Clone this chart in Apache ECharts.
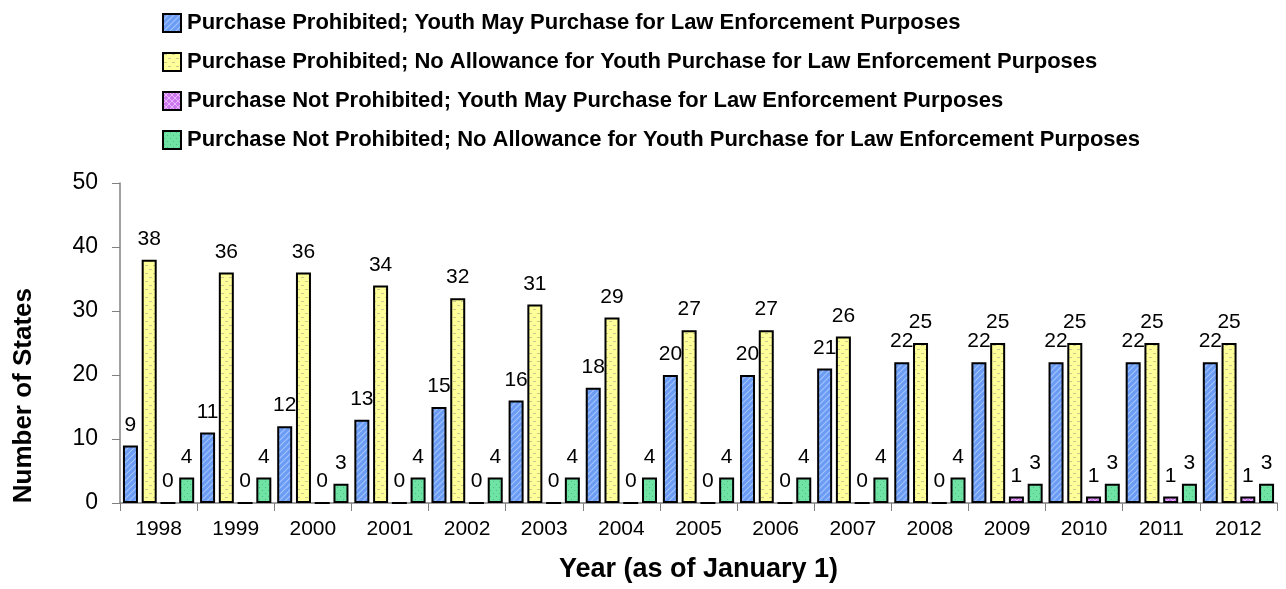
<!DOCTYPE html>
<html><head><meta charset="utf-8">
<script src="https://cdn.jsdelivr.net/npm/echarts@6/dist/echarts.min.js"></script>
<style>html,body{margin:0;padding:0;background:#fff}#c{width:1286px;height:589px}</style>
</head><body><div id="c"></div>
<script>
const years = ['1998','1999','2000','2001','2002','2003','2004','2005','2006','2007','2008','2009','2010','2011','2012'];
const seriesNames = [
  'Purchase Prohibited; Youth May Purchase for Law Enforcement Purposes',
  'Purchase Prohibited; No Allowance for Youth Purchase for Law Enforcement Purposes',
  'Purchase Not Prohibited; Youth May Purchase for Law Enforcement Purposes',
  'Purchase Not Prohibited; No Allowance for Youth Purchase for Law Enforcement Purposes'
];
const prohibitedMay = [9,11,12,13,15,16,18,20,20,21,22,22,22,22,22];
const prohibitedNo = [38,36,36,34,32,31,29,27,27,26,25,25,25,25,25];
const notProhibitedMay = [0,0,0,0,0,0,0,0,0,0,0,1,1,1,1];
const notProhibitedNo = [4,4,3,4,4,4,4,4,4,4,4,3,3,3,3];

function pat(w,h,bg,draw){
  const c=document.createElement('canvas');c.width=w;c.height=h;
  const g=c.getContext('2d');g.fillStyle=bg;g.fillRect(0,0,w,h);draw(g);
  return {image:c,repeat:'repeat'};
}
const bluePat = pat(6,6,'#6b9cf3',g=>{g.strokeStyle='#a3c2ff';g.lineWidth=1.2;g.beginPath();g.moveTo(-1,7);g.lineTo(7,-1);g.moveTo(-4,4);g.lineTo(4,-4);g.moveTo(2,10);g.lineTo(10,2);g.stroke();});
const yellowPat = pat(8,8,'#ffff99',g=>{g.fillStyle='#c9c98f';g.fillRect(1,1,3,1);g.fillRect(5,5,3,1);});
const purplePat = pat(6,6,'#cc77ee',g=>{g.strokeStyle='#eab8ff';g.lineWidth=1;g.beginPath();g.moveTo(0,0);g.lineTo(6,6);g.moveTo(6,0);g.lineTo(0,6);g.stroke();});
const greenPat = pat(6,6,'#6ee3a3',g=>{g.fillStyle='#4fbf86';g.fillRect(1,1,1,1);g.fillRect(4,4,1,1);});
const pats=[bluePat,yellowPat,purplePat,greenPat];
const dataArr=[prohibitedMay,prohibitedNo,notProhibitedMay,notProhibitedNo];
const FF='Liberation Sans, Arial, sans-serif';

const chart = echarts.init(document.getElementById('c'));
chart.setOption({
  animation:false,
  legend:{
    orient:'vertical', left:157, top:7, itemWidth:18, itemHeight:18, itemGap:17,
    icon:'rect',
    textStyle:{fontFamily:FF, fontWeight:'bold', fontSize:22, lineHeight:20, color:'#000', padding:[0,0,0,1]},
    data:seriesNames
  },
  grid:{left:120, right:9, top:183, bottom:86},
  xAxis:{
    type:'category', data:years,
    axisLine:{lineStyle:{color:'#808080', width:1.5}},
    axisTick:{show:true, length:8, lineStyle:{color:'#808080'}},
    axisLabel:{fontFamily:FF, fontSize:21, color:'#000', margin:16},
    name:'Year (as of January 1)', nameLocation:'middle', nameGap:53,
    nameTextStyle:{fontFamily:FF, fontWeight:'bold', fontSize:27, color:'#000'}
  },
  yAxis:{
    type:'value', min:0, max:50, interval:10,
    axisLine:{show:true, lineStyle:{color:'#808080', width:1.5}},
    axisTick:{show:true, length:8, lineStyle:{color:'#808080'}},
    splitLine:{show:false},
    axisLabel:{fontFamily:FF, fontSize:23, color:'#000', margin:22}
  },
  graphic:[{
    type:'text', left:11, top:288, rotation:Math.PI/2,
    style:{text:'Number of States', fontFamily:FF, fontWeight:'bold', fontSize:26, fill:'#000'}
  }],
  series: seriesNames.map((n,i)=>({
    name:n, type:'bar', data:dataArr[i], barWidth:15, barGap:'25%', barCategoryGap:'5%',
    itemStyle:{color:pats[i], borderColor:'#000', borderWidth:2},
    label:{show:true, position:'top', distance:10, fontFamily:FF, fontSize:21, color:'#000'}
  }))
});
</script></body></html>
